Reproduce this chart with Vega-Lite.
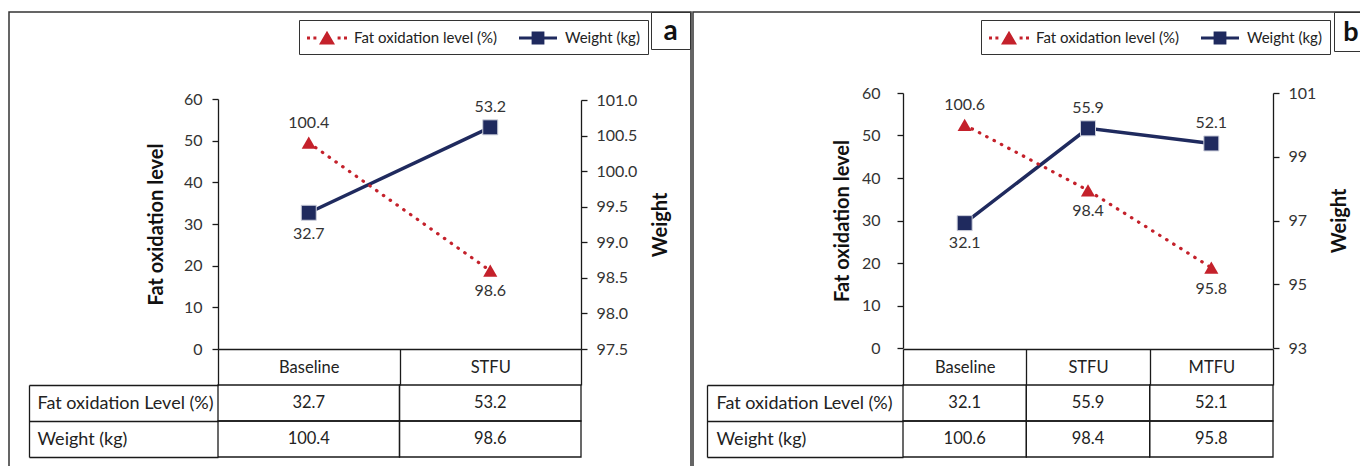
{
  "$schema": "https://vega.github.io/schema/vega-lite/v6.json",
  "padding": {"left": 8, "top": 2, "right": 0, "bottom": 0},
  "spacing": 0,
  "datasets": {
    "panelA": [
      {"period": "Baseline", "measure": "Fat oxidation Level (%)", "value": 32.7},
      {"period": "STFU", "measure": "Fat oxidation Level (%)", "value": 53.2},
      {"period": "Baseline", "measure": "Weight (kg)", "value": 100.4},
      {"period": "STFU", "measure": "Weight (kg)", "value": 98.6}
    ],
    "panelB": [
      {"period": "Baseline", "measure": "Fat oxidation Level (%)", "value": 32.1},
      {"period": "STFU", "measure": "Fat oxidation Level (%)", "value": 55.9},
      {"period": "MTFU", "measure": "Fat oxidation Level (%)", "value": 52.1},
      {"period": "Baseline", "measure": "Weight (kg)", "value": 100.6},
      {"period": "STFU", "measure": "Weight (kg)", "value": 98.4},
      {"period": "MTFU", "measure": "Weight (kg)", "value": 95.8}
    ]
  },
  "hconcat": [
    {
      "width": 682,
      "height": 458,
      "data": {"name": "panelA"},
      "encoding": {
        "x": {
          "field": "period", "type": "nominal",
          "scale": {"domain": ["Baseline", "STFU"], "range": [209, 572], "paddingInner": 0, "paddingOuter": 0},
          "axis": {"orient": "bottom", "offset": -121, "title": null, "labelAngle": 0, "tickBand": "extent", "tickSize": 36, "labelFontSize": 16.5, "labelColor": "#222", "labelPadding": -18, "labelBaseline": "middle", "grid": false}
        }
      },
      "layer": [
        {
          "transform": [{"filter": "datum.measure == 'Fat oxidation Level (%)'"}],
          "mark": {"type": "point", "opacity": 0},
          "encoding": {
            "y": {"field": "value", "type": "quantitative",
              "scale": {"domain": [0, 60], "range": [337, 87], "nice": false, "zero": false},
              "axis": {"orient": "left", "offset": -209, "values": [0, 10, 20, 30, 40, 50, 60], "title": "Fat oxidation level", "titlePadding": 17, "tickSize": 6, "labelPadding": 10, "labelFontSize": 16, "titleFontSize": 20, "titleFontWeight": "bold", "titleColor": "#111", "grid": false}}
          }
        },
        {
          "transform": [{"filter": "datum.measure == 'Weight (kg)'"}],
          "mark": {"type": "point", "opacity": 0},
          "encoding": {
            "y": {"field": "value", "type": "quantitative",
              "scale": {"domain": [97.5, 101], "range": [337, 88], "nice": false, "zero": false},
              "axis": {"orient": "right", "offset": -110, "values": [97.5, 98, 98.5, 99, 99.5, 100, 100.5, 101], "format": ".1f", "title": "Weight", "titleAngle": 270, "titleBaseline": "top", "titlePadding": 14, "tickSize": 6, "labelPadding": 9, "labelFontSize": 16, "titleFontSize": 20, "titleFontWeight": "bold", "titleColor": "#111", "grid": false}}
          }
        },
        {
          "transform": [{"filter": "datum.measure == 'Fat oxidation Level (%)'"}],
          "encoding": {
            "y": {"field": "value", "type": "quantitative", "scale": {"domain": [0, 60], "range": [337, 87], "nice": false, "zero": false}, "axis": null}
          },
          "layer": [
            {"mark": {"type": "line", "color": "#1F2A5E", "strokeWidth": 3.5}, "encoding": {"order": {"value": null}}},
            {"mark": {"type": "point", "shape": "square", "filled": true, "color": "#1F2A5E", "size": 225, "stroke": "#cdd0dc", "strokeWidth": 1, "opacity": 1}},
            {"mark": {"type": "point", "filled": true, "opacity": 0},
              "encoding": {
                "color": {"field": "measure", "type": "nominal",
                  "scale": {"domain": ["Weight (kg)", "Fat oxidation Level (%)"], "range": ["#C4212B", "#1F2A5E"]},
                  "legend": {"title": null, "orient": "none", "legendX": 290, "legendY": 8, "direction": "horizontal", "strokeColor": "#333", "fillColor": "white", "padding": 8, "symbolSize": 400, "symbolOffset": 10, "symbolStrokeWidth": 0, "symbolOpacity": 1, "labelFontSize": 15, "labelColor": "#222", "labelOffset": 17, "columnPadding": 20,
                    "labelExpr": "datum.value == 'Weight (kg)' ? 'Fat oxidation level (%)' : 'Weight (kg)'"}},
                "shape": {"field": "measure", "type": "nominal",
                  "scale": {"domain": ["Weight (kg)", "Fat oxidation Level (%)"], "range": ["M0,-0.72L0.8,0.64L-0.8,0.64Z M-2,-0.15h0.3v0.3h-0.3Z M-1.36,-0.15h0.3v0.3h-0.3Z M1.06,-0.15h0.3v0.3h-0.3Z M1.7,-0.15h0.3v0.3h-0.3Z", "M-1.9,-0.16H1.9V0.16H-1.9Z M-0.64,-0.64H0.64V0.64H-0.64Z"]},
                  "legend": {"title": null, "orient": "none", "legendX": 290, "legendY": 8, "direction": "horizontal", "strokeColor": "#333", "fillColor": "white", "padding": 8, "symbolSize": 400, "symbolOffset": 10, "symbolStrokeWidth": 0, "symbolOpacity": 1, "labelFontSize": 15, "labelColor": "#222", "labelOffset": 17, "columnPadding": 20,
                    "labelExpr": "datum.value == 'Weight (kg)' ? 'Fat oxidation level (%)' : 'Weight (kg)'"}}
              }},
            {"transform": [{"filter": "datum.period == 'Baseline'"}], "mark": {"type": "text", "dy": 21, "fontSize": 16, "color": "#333"}, "encoding": {"text": {"field": "value", "type": "quantitative", "format": ".1f"}}},
            {"transform": [{"filter": "datum.period != 'Baseline'"}], "mark": {"type": "text", "dy": -20, "fontSize": 16, "color": "#333"}, "encoding": {"text": {"field": "value", "type": "quantitative", "format": ".1f"}}}
          ]
        },
        {
          "transform": [{"filter": "datum.measure == 'Weight (kg)'"}],
          "encoding": {
            "y": {"field": "value", "type": "quantitative", "scale": {"domain": [97.5, 101], "range": [337, 88], "nice": false, "zero": false}, "axis": null}
          },
          "layer": [
            {"mark": {"type": "line", "color": "#C4212B", "strokeWidth": 3.2, "strokeDash": [0.5, 7.8], "strokeCap": "round"}, "encoding": {"order": {"value": null}}},
            {"mark": {"type": "point", "shape": "triangle-up", "filled": true, "color": "#C4212B", "size": 200, "opacity": 1}},
            {"transform": [{"filter": "datum.period == 'Baseline'"}], "mark": {"type": "text", "dy": -20, "fontSize": 16, "color": "#333"}, "encoding": {"text": {"field": "value", "type": "quantitative", "format": ".1f"}}},
            {"transform": [{"filter": "datum.period != 'Baseline'"}], "mark": {"type": "text", "dy": 20, "fontSize": 16, "color": "#333"}, "encoding": {"text": {"field": "value", "type": "quantitative", "format": ".1f"}}}
          ]
        },
        {
          "encoding": {
            "y": {"field": "measure", "type": "nominal",
              "scale": {"domain": ["Fat oxidation Level (%)", "Weight (kg)"], "range": [373, 445], "paddingInner": 0, "paddingOuter": 0},
              "axis": {"orient": "left", "offset": -20, "title": null, "tickBand": "extent", "tickSize": -189, "labelAlign": "left", "labelBaseline": "middle", "labelPadding": 181, "labelFontSize": 18, "labelColor": "#222", "labelLimit": 400, "labelAngle": 0, "grid": false}}
          },
          "layer": [
            {"mark": {"type": "rect", "filled": false, "stroke": "#1a1a1a", "strokeWidth": 1.3}},
            {"mark": {"type": "text", "fontSize": 16.5, "color": "#222"},
              "encoding": {
                "text": {"field": "value", "type": "quantitative", "format": ".1f"},
                "opacity": {"datum": "a", "type": "ordinal", "scale": {"range": [1, 1]},
                  "legend": {"title": null, "orient": "none", "legendX": 642, "legendY": 0, "strokeColor": "#333", "fillColor": "white", "padding": 3.5, "symbolType": "M-1,-0.8M1,0.8", "symbolSize": 1024, "symbolStrokeWidth": 0, "labelFontSize": 28, "labelFontWeight": "bold", "labelColor": "#111", "labelAlign": "center", "labelOffset": -16, "labelBaseline": "middle"}}
              }}
          ]
        }
      ],
      "resolve": {"scale": {"y": "independent"}}
    },
    {
      "width": 670,
      "height": 458,
      "data": {"name": "panelB"},
      "encoding": {
        "x": {
          "field": "period", "type": "nominal",
          "scale": {"domain": ["Baseline", "STFU", "MTFU"], "range": [210, 580], "paddingInner": 0, "paddingOuter": 0},
          "axis": {"orient": "bottom", "offset": -121, "title": null, "labelAngle": 0, "tickBand": "extent", "tickSize": 36, "labelFontSize": 16.5, "labelColor": "#222", "labelPadding": -18, "labelBaseline": "middle", "grid": false}
        }
      },
      "layer": [
        {
          "transform": [{"filter": "datum.measure == 'Fat oxidation Level (%)'"}],
          "mark": {"type": "point", "opacity": 0},
          "encoding": {
            "y": {"field": "value", "type": "quantitative",
              "scale": {"domain": [0, 60], "range": [336, 81], "nice": false, "zero": false},
              "axis": {"orient": "left", "offset": -210, "values": [0, 10, 20, 30, 40, 50, 60], "title": "Fat oxidation level", "titlePadding": 9, "tickSize": 6, "labelPadding": 17, "labelFontSize": 16, "titleFontSize": 20, "titleFontWeight": "bold", "titleColor": "#111", "grid": false}}
          }
        },
        {
          "transform": [{"filter": "datum.measure == 'Weight (kg)'"}],
          "mark": {"type": "point", "opacity": 0},
          "encoding": {
            "y": {"field": "value", "type": "quantitative",
              "scale": {"domain": [93, 101], "range": [336, 81], "nice": false, "zero": false},
              "axis": {"orient": "right", "offset": -90, "values": [93, 95, 97, 99, 101], "format": "d", "title": "Weight", "titleAngle": 270, "titleBaseline": "top", "titlePadding": 14, "tickSize": 6, "labelPadding": 9, "labelFontSize": 16, "titleFontSize": 20, "titleFontWeight": "bold", "titleColor": "#111", "grid": false}}
          }
        },
        {
          "transform": [{"filter": "datum.measure == 'Fat oxidation Level (%)'"}],
          "encoding": {
            "y": {"field": "value", "type": "quantitative", "scale": {"domain": [0, 60], "range": [339, 100], "nice": false, "zero": false}, "axis": null}
          },
          "layer": [
            {"mark": {"type": "line", "color": "#1F2A5E", "strokeWidth": 3.5}, "encoding": {"order": {"value": null}}},
            {"mark": {"type": "point", "shape": "square", "filled": true, "color": "#1F2A5E", "size": 225, "stroke": "#cdd0dc", "strokeWidth": 1, "opacity": 1}},
            {"mark": {"type": "point", "filled": true, "opacity": 0},
              "encoding": {
                "color": {"field": "measure", "type": "nominal",
                  "scale": {"domain": ["Weight (kg)", "Fat oxidation Level (%)"], "range": ["#C4212B", "#1F2A5E"]},
                  "legend": {"title": null, "orient": "none", "legendX": 288, "legendY": 8, "direction": "horizontal", "strokeColor": "#333", "fillColor": "white", "padding": 8, "symbolSize": 400, "symbolOffset": 10, "symbolStrokeWidth": 0, "symbolOpacity": 1, "labelFontSize": 15, "labelColor": "#222", "labelOffset": 17, "columnPadding": 20,
                    "labelExpr": "datum.value == 'Weight (kg)' ? 'Fat oxidation level (%)' : 'Weight (kg)'"}},
                "shape": {"field": "measure", "type": "nominal",
                  "scale": {"domain": ["Weight (kg)", "Fat oxidation Level (%)"], "range": ["M0,-0.72L0.8,0.64L-0.8,0.64Z M-2,-0.15h0.3v0.3h-0.3Z M-1.36,-0.15h0.3v0.3h-0.3Z M1.06,-0.15h0.3v0.3h-0.3Z M1.7,-0.15h0.3v0.3h-0.3Z", "M-1.9,-0.16H1.9V0.16H-1.9Z M-0.64,-0.64H0.64V0.64H-0.64Z"]},
                  "legend": {"title": null, "orient": "none", "legendX": 288, "legendY": 8, "direction": "horizontal", "strokeColor": "#333", "fillColor": "white", "padding": 8, "symbolSize": 400, "symbolOffset": 10, "symbolStrokeWidth": 0, "symbolOpacity": 1, "labelFontSize": 15, "labelColor": "#222", "labelOffset": 17, "columnPadding": 20,
                    "labelExpr": "datum.value == 'Weight (kg)' ? 'Fat oxidation level (%)' : 'Weight (kg)'"}}
              }},
            {"transform": [{"filter": "datum.period == 'Baseline'"}], "mark": {"type": "text", "dy": 20, "fontSize": 16, "color": "#333"}, "encoding": {"text": {"field": "value", "type": "quantitative", "format": ".1f"}}},
            {"transform": [{"filter": "datum.period != 'Baseline'"}], "mark": {"type": "text", "dy": -20, "fontSize": 16, "color": "#333"}, "encoding": {"text": {"field": "value", "type": "quantitative", "format": ".1f"}}}
          ]
        },
        {
          "transform": [{"filter": "datum.measure == 'Weight (kg)'"}],
          "encoding": {
            "y": {"field": "value", "type": "quantitative", "scale": {"domain": [93, 101], "range": [339, 101], "nice": false, "zero": false}, "axis": null}
          },
          "layer": [
            {"mark": {"type": "line", "color": "#C4212B", "strokeWidth": 3.2, "strokeDash": [0.5, 7.8], "strokeCap": "round"}, "encoding": {"order": {"value": null}}},
            {"mark": {"type": "point", "shape": "triangle-up", "filled": true, "color": "#C4212B", "size": 200, "opacity": 1}},
            {"transform": [{"filter": "datum.period == 'Baseline'"}], "mark": {"type": "text", "dy": -20, "fontSize": 16, "color": "#333"}, "encoding": {"text": {"field": "value", "type": "quantitative", "format": ".1f"}}},
            {"transform": [{"filter": "datum.period != 'Baseline'"}], "mark": {"type": "text", "dy": 21, "fontSize": 16, "color": "#333"}, "encoding": {"text": {"field": "value", "type": "quantitative", "format": ".1f"}}}
          ]
        },
        {
          "encoding": {
            "y": {"field": "measure", "type": "nominal",
              "scale": {"domain": ["Fat oxidation Level (%)", "Weight (kg)"], "range": [373, 445], "paddingInner": 0, "paddingOuter": 0},
              "axis": {"orient": "left", "offset": -14, "title": null, "tickBand": "extent", "tickSize": -196, "labelAlign": "left", "labelBaseline": "middle", "labelPadding": 187, "labelFontSize": 18, "labelColor": "#222", "labelLimit": 400, "labelAngle": 0, "grid": false}}
          },
          "layer": [
            {"mark": {"type": "rect", "filled": false, "stroke": "#1a1a1a", "strokeWidth": 1.3}},
            {"mark": {"type": "text", "fontSize": 16.5, "color": "#222"},
              "encoding": {
                "text": {"field": "value", "type": "quantitative", "format": ".1f"},
                "opacity": {"datum": "b", "type": "ordinal", "scale": {"range": [1, 1]},
                  "legend": {"title": null, "orient": "none", "legendX": 641, "legendY": 0, "strokeColor": "#333", "fillColor": "white", "padding": 5, "symbolType": "M-1,-0.8M1,0.8", "symbolSize": 1024, "symbolStrokeWidth": 0, "labelFontSize": 27, "labelFontWeight": "bold", "labelColor": "#111", "labelAlign": "center", "labelOffset": -20, "labelBaseline": "middle"}}
              }}
          ]
        }
      ],
      "resolve": {"scale": {"y": "independent"}}
    }
  ],
  "resolve": {"scale": {"color": "independent", "opacity": "independent", "shape": "independent"}},
  "config": {
    "view": {"stroke": "#333", "strokeWidth": 1.5},
    "font": "Lato",
    "axis": {"labelFont": "Lato", "titleFont": "Lato", "grid": false, "domainColor": "#1a1a1a", "tickColor": "#1a1a1a", "domainWidth": 1.3, "tickWidth": 1.3, "labelColor": "#333"},
    "legend": {"labelFont": "Lato"},
    "text": {"font": "Lato"}
  }
}
